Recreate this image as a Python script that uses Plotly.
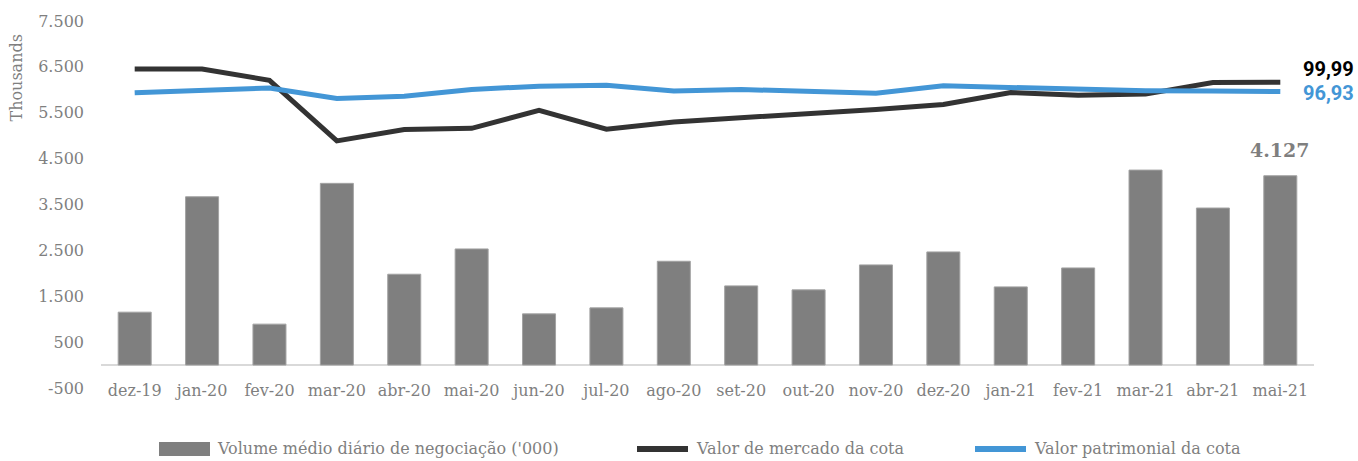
import plotly.graph_objects as go

# Monthly series
months = ["dez-19", "jan-20", "fev-20", "mar-20", "abr-20", "mai-20", "jun-20", "jul-20", "ago-20",
          "set-20", "out-20", "nov-20", "dez-20", "jan-21", "fev-21", "mar-21", "abr-21", "mai-21"]
volume = [1153, 3669, 892, 3961, 1980, 2531, 1116, 1247, 2263,
          1726, 1639, 2183, 2466, 1704, 2117, 4250, 3423, 4127]
mercado = [104.3, 104.3, 100.6, 80.8, 84.5, 84.9, 90.8, 84.6, 87.0,
           88.3, 89.4, 91.1, 92.7, 96.6, 95.7, 96.1, 99.9, 99.99]
patrimonial = [96.5, 97.4, 98.1, 94.7, 95.4, 97.6, 98.7, 99.0, 97.1,
               97.6, 97.0, 96.4, 98.8, 98.3, 97.4, 97.2, 97.1, 96.93]

y_ticks = [-500, 500, 1500, 2500, 3500, 4500, 5500, 6500, 7500]
y_tick_text = ["-500", "500", "1.500", "2.500", "3.500", "4.500", "5.500", "6.500", "7.500"]

names = ["Volume médio diário de negociação ('000)", "Valor de mercado da cota", "Valor patrimonial da cota"]

GREY = "#7f7f7f"
DARK = "#333333"
BLUE = "#4396d6"
FONT = "DejaVu Serif"

W, H = 1358, 461
ML, MR, MT, MB = 101, 44, 21, 73
PW, PH = W - ML - MR, H - MT - MB


def px(x):
    return (x - ML) / PW


def py(y):
    return (H - MB - y) / PH


def br(v):
    return f"{v:,.0f}".replace(",", ".")


def dec(v):
    return f"{v:.2f}".replace(".", ",")


fig = go.Figure()
fig.add_trace(go.Bar(x=months, y=volume, name=names[0], marker=dict(color=GREY, line=dict(color="#a3a3a3", width=1)),
                     showlegend=False))
fig.add_trace(go.Scatter(x=months, y=mercado, name=names[1], mode="lines", yaxis="y2",
                         line=dict(color=DARK, width=5), showlegend=False))
fig.add_trace(go.Scatter(x=months, y=patrimonial, name=names[2], mode="lines", yaxis="y2",
                         line=dict(color=BLUE, width=5), showlegend=False))

annotations = [
    dict(x=months[-1], y=volume[-1], xref="x", yref="y", text=f"<b>{br(volume[-1])}</b>", showarrow=False,
         yanchor="bottom", yshift=13, font=dict(family=FONT, size=19, color=GREY)),
    dict(x=months[-1], y=mercado[-1], xref="x", yref="y2", text=f"<b>{dec(mercado[-1])}</b>", showarrow=False,
         xanchor="left", xshift=21, yshift=13, font=dict(family="Roboto", size=20, color="#000000")),
    dict(x=months[-1], y=patrimonial[-1], xref="x", yref="y2", text=f"<b>{dec(patrimonial[-1])}</b>", showarrow=False,
         xanchor="left", xshift=21, yshift=-1, font=dict(family="Roboto", size=20, color=BLUE)),
    dict(x=px(16), y=py(78.5), xref="paper", yref="paper", text="Thousands", textangle=-90, showarrow=False,
         xanchor="center", yanchor="middle", font=dict(family=FONT, size=16, color=GREY)),
]

# Legend drawn along the bottom
leg_y = 449
shapes = [
    dict(type="rect", xref="paper", yref="paper", x0=px(159), x1=px(210), y0=py(leg_y - 7), y1=py(leg_y + 7),
         fillcolor=GREY, line=dict(width=0)),
    dict(type="line", xref="paper", yref="paper", x0=px(637), x1=px(688), y0=py(leg_y), y1=py(leg_y),
         line=dict(color=DARK, width=6)),
    dict(type="line", xref="paper", yref="paper", x0=px(975), x1=px(1026), y0=py(leg_y), y1=py(leg_y),
         line=dict(color=BLUE, width=6)),
]
for name, x0 in zip(names, [215, 694, 1032]):
    annotations.append(dict(x=px(x0), y=py(leg_y), xref="paper", yref="paper", text=name, showarrow=False,
                            xanchor="left", yanchor="middle", font=dict(family=FONT, size=16, color=GREY)))

fig.update_layout(
    width=W, height=H,
    margin=dict(l=ML, r=MR, t=MT, b=MB, autoexpand=False),
    plot_bgcolor="white", paper_bgcolor="white",
    bargap=0.51,
    showlegend=False,
    font=dict(family=FONT, size=16, color=GREY),
    xaxis=dict(type="category", range=[-0.5, len(months) - 0.5], showgrid=False, showline=False, ticks="",
               ticklabelstandoff=-9, tickfont=dict(family=FONT, size=16, color=GREY)),
    yaxis=dict(range=[-500, 7500], tickvals=y_ticks, ticktext=y_tick_text, showgrid=False, showline=False,
               zeroline=True, zerolinecolor="#d9d9d9", zerolinewidth=2, ticks="", ticklabelstandoff=16,
               tickfont=dict(family=FONT, size=16, color=GREY)),
    yaxis2=dict(range=[0, 120], overlaying="y", visible=False, showgrid=False, zeroline=False),
    annotations=annotations,
    shapes=shapes,
)

fig.write_html("out.html")
